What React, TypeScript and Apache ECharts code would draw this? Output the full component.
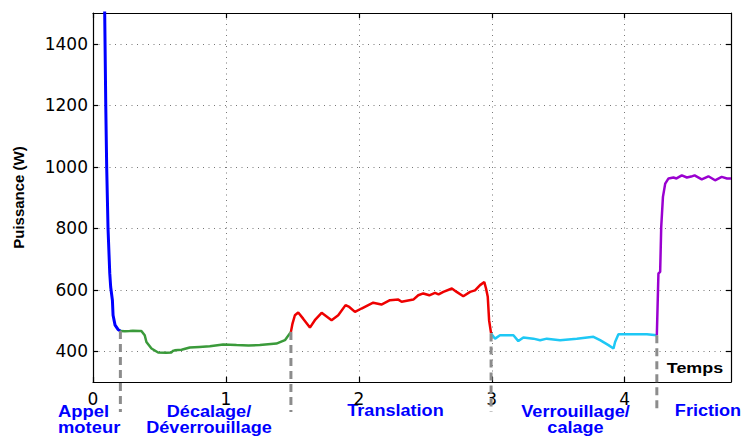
import React, { useEffect, useRef } from "react";
import * as echarts from "echarts";

// Phase 1 : Appel moteur (blue)
const appelT = [0.085, 0.088, 0.096, 0.103, 0.113, 0.126, 0.133, 0.146, 0.151, 0.166, 0.188, 0.206];
const appelP = [1600, 1500, 1200, 999, 800, 654, 609, 566, 517, 485, 471, 466];

// Phase 2 : Décalage / Déverrouillage (green)
const decalT = [0.206, 0.24, 0.276, 0.3, 0.35, 0.364, 0.389, 0.402, 0.44, 0.49, 0.55, 0.59, 0.6, 0.615, 0.666, 0.728, 0.8, 0.879, 0.979, 1.08, 1.17, 1.255, 1.38, 1.444, 1.489];
const decalP = [466, 465, 466, 467, 466, 466, 452, 430, 409, 396, 395, 396, 401, 403, 405, 412, 414, 416, 422, 420, 419, 420, 425, 436, 463];

// Phase 3 : Translation (red)
const transT = [1.489, 1.501, 1.519, 1.544, 1.581, 1.632, 1.669, 1.72, 1.795, 1.845, 1.9, 1.928, 1.971, 2.02, 2.108, 2.17, 2.234, 2.297, 2.322, 2.41, 2.447, 2.485, 2.53, 2.573, 2.6, 2.636, 2.7, 2.736, 2.786, 2.837, 2.874, 2.912, 2.944, 2.957, 2.97, 2.98, 2.995];
const transP = [463, 490, 517, 526, 506, 477, 501, 525, 501, 517, 550, 544, 528, 539, 558, 552, 566, 568, 561, 568, 582, 588, 582, 590, 585, 593, 604, 593, 579, 593, 598, 615, 625, 604, 577, 501, 458];

// Phase 4 : Verrouillage / calage (cyan)
const verrT = [2.995, 3.025, 3.062, 3.163, 3.2, 3.238, 3.313, 3.364, 3.414, 3.514, 3.64, 3.765, 3.815, 3.878, 3.916, 3.928, 3.953, 4.04, 4.167, 4.242];
const verrP = [458, 441, 452, 452, 433, 445, 441, 436, 441, 436, 441, 447, 436, 420, 409, 430, 455, 455, 455, 452];

// Phase 5 : Friction (purple)
const fricT = [4.242, 4.254, 4.267, 4.275, 4.288, 4.305, 4.33, 4.367, 4.39, 4.43, 4.468, 4.5, 4.526, 4.58, 4.63, 4.68, 4.73, 4.77, 4.8];
const fricP = [452, 653, 658, 804, 902, 945, 962, 965, 962, 972, 965, 968, 972, 959, 969, 956, 967, 962, 962];

// Phase boundaries (dashed markers)
const boundT = [0.206, 1.489, 2.995, 4.242];
const boundP = [466, 463, 458, 452];

const xTicks = [0, 1, 2, 3, 4];
const yTicks = [400, 600, 800, 1000, 1200, 1400];

const X_MIN = 0, X_MAX = 4.8, Y_MIN = 300, Y_MAX = 1500;

const zip = (t: number[], p: number[]) => t.map((v, i) => [v, p[i]]);

const phases = [
  { name: "Appel moteur", t: appelT, p: appelP, color: "#0000ff", width: 3 },
  { name: "Décalage", t: decalT, p: decalP, color: "#3a9a3a", width: 2.5 },
  { name: "Translation", t: transT, p: transP, color: "#ee0000", width: 2.5 },
  { name: "Verrouillage", t: verrT, p: verrP, color: "#1ec8f5", width: 2.5 },
  { name: "Friction", t: fricT, p: fricP, color: "#9a00d0", width: 2.5 },
];

const gridLine = { show: true, lineStyle: { color: "#777", width: 1, type: [1, 4.5] as any } };
const frame = { show: true, onZero: false, lineStyle: { color: "#000", width: 1.2 } };
const tickIn = { inside: true, length: 5, lineStyle: { color: "#000", width: 1.2 } };
const plain = (v: number) => String(v);

export default function App() {
  const ref = useRef<HTMLDivElement>(null);
  useEffect(() => {
    const chart = echarts.init(ref.current!, null, { renderer: "svg" });
    const option: any = {
      animation: false,
      grid: { left: 93, right: 12, top: 13, bottom: 55, containLabel: false },
      xAxis: [
        {
          type: "value", min: X_MIN, max: X_MAX, position: "bottom",
          axisLine: frame,
          axisTick: { ...tickIn, customValues: xTicks },
          axisLabel: { customValues: xTicks, formatter: plain, margin: 8, fontFamily: "DejaVu Sans", fontSize: 17, color: "#000" },
          splitLine: gridLine,
        },
        {
          type: "value", min: X_MIN, max: X_MAX, position: "top",
          axisLine: frame,
          axisTick: { ...tickIn, customValues: xTicks },
          axisLabel: { show: false },
          splitLine: { show: false },
        },
      ],
      yAxis: [
        {
          type: "value", min: Y_MIN, max: Y_MAX, position: "left",
          name: "Puissance (W)", nameLocation: "middle", nameGap: 67,
          nameTextStyle: { fontFamily: "Liberation Sans", fontWeight: "bold", fontSize: 15, color: "#000" },
          axisLine: frame,
          axisTick: { ...tickIn, customValues: yTicks },
          axisLabel: { customValues: yTicks, formatter: plain, margin: 5, fontFamily: "DejaVu Sans", fontSize: 17, color: "#000" },
          splitLine: gridLine,
        },
        {
          type: "value", min: Y_MIN, max: Y_MAX, position: "right",
          axisLine: frame,
          axisTick: { ...tickIn, customValues: yTicks },
          axisLabel: { show: false },
          splitLine: { show: false },
        },
      ],
      series: [
        ...phases.map((ph) => ({
          type: "line", name: ph.name, data: zip(ph.t, ph.p),
          showSymbol: false, symbol: "none", clip: true,
          lineStyle: { color: ph.color, width: ph.width },
          z: 3,
        })),
        {
          type: "custom", name: "limites", clip: false, z: 5,
          data: zip(boundT, boundP),
          renderItem: (params: any, api: any) => {
            const x = api.value(0), y = api.value(1);
            const top = api.coord([x, y]);
            const base = api.coord([x, Y_MIN]);
            return {
              type: "line",
              shape: { x1: top[0], y1: top[1], x2: top[0], y2: base[1] + 30 },
              style: { stroke: "#8c8c8c", lineWidth: 3, lineDash: [8, 5] },
            };
          },
        },
      ],
      graphic: [
        { type: "text", x: 695, y: 368, scaleX: 1.28, style: { text: "Temps", fontFamily: "Liberation Sans", fontWeight: "bold", fontSize: 14, fill: "#000", align: "center", verticalAlign: "middle" } },
        { type: "text", x: 58, y: 419.5, scaleX: 1.15, style: { text: "Appel\nmoteur", fontFamily: "Liberation Sans", fontWeight: "bold", fontSize: 16, lineHeight: 16.3, fill: "#0000ff", align: "left", verticalAlign: "middle" } },
        { type: "text", x: 209, y: 419.5, scaleX: 1.13, style: { text: "Décalage/\nDéverrouillage", fontFamily: "Liberation Sans", fontWeight: "bold", fontSize: 16, lineHeight: 16.3, fill: "#0000ff", align: "center", verticalAlign: "middle" } },
        { type: "text", x: 395.5, y: 411.3, scaleX: 1.13, style: { text: "Translation", fontFamily: "Liberation Sans", fontWeight: "bold", fontSize: 16, fill: "#0000ff", align: "center", verticalAlign: "middle" } },
        { type: "text", x: 575.5, y: 419.5, scaleX: 1.13, style: { text: "Verrouillage/\ncalage", fontFamily: "Liberation Sans", fontWeight: "bold", fontSize: 16, lineHeight: 16.3, fill: "#0000ff", align: "center", verticalAlign: "middle" } },
        { type: "text", x: 708, y: 411.3, scaleX: 1.13, style: { text: "Friction", fontFamily: "Liberation Sans", fontWeight: "bold", fontSize: 16, fill: "#0000ff", align: "center", verticalAlign: "middle" } },
      ],
    };
    chart.setOption(option);
    return () => chart.dispose();
  }, []);
  return <div ref={ref} style={{ position: "absolute", left: 0, top: 0, width: 743, height: 437 }} />;
}
